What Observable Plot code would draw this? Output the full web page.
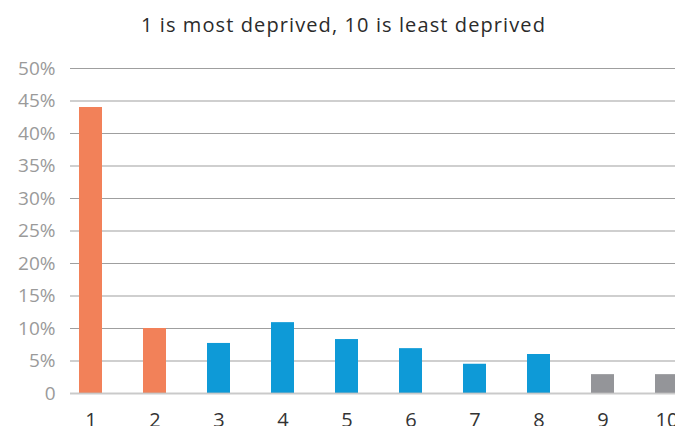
<!DOCTYPE html>
<html>
<head>
<meta charset="utf-8">
<script src="https://cdn.jsdelivr.net/npm/d3@7"></script>
<script src="https://cdn.jsdelivr.net/npm/@observablehq/plot@0.6"></script>
<style>
  html, body { margin: 0; padding: 0; background: #fff; overflow: hidden; }
  #title { height: 48px; line-height: 50px; text-align: center; font-family: "Open Sans", sans-serif; font-size: 20px; letter-spacing: 1.1px; color: #2b2b2b; padding-left: 12px; }
  #chart svg { display: block; }
</style>
</head>
<body>
<div id="title">1 is most deprived, 10 is least deprived</div>
<div id="chart"></div>
<script>
const deciles = ["1", "2", "3", "4", "5", "6", "7", "8", "9", "10"];
const shares = [44.0, 10.0, 7.7, 10.9, 8.3, 6.9, 4.5, 6.0, 2.9, 2.9];
const groups = ["most", "most", "mid", "mid", "mid", "mid", "mid", "mid", "least", "least"];
const groupNames = ["most", "mid", "least"];
const groupColors = ["#F28159", "#0E9AD7", "#949599"];
const yTicks = [0, 5, 10, 15, 20, 25, 30, 35, 40, 45, 50];

const data = deciles.map((d, i) => ({decile: d, share: shares[i], group: groups[i]}));

const chart = Plot.plot({
  width: 675,
  height: 378,
  marginLeft: 70,
  marginRight: 0,
  marginTop: 20,
  marginBottom: 33,
  style: {fontFamily: "Open Sans, sans-serif", background: "#fff", overflow: "visible"},
  x: {domain: deciles, range: [58.3, 698.3], paddingInner: 0.64, paddingOuter: 0.32, label: null},
  y: {domain: [0, 50], label: null},
  color: {domain: groupNames, range: groupColors},
  marks: [
    Plot.ruleY(yTicks.filter(t => t > 0), {stroke: "#9f9f9f", strokeWidth: 1}),
    Plot.barY(data, {x: "decile", y: "share", fill: "group"}),
    Plot.ruleY([0], {stroke: "#bdbdbd", strokeWidth: 2, strokeOpacity: 0.8}),
    Plot.axisY({ticks: yTicks, tickSize: 0, tickPadding: 15, tickFormat: d => d === 0 ? "0" : d + "%", fontSize: 19, fill: "#9a9a9a", label: null}),
    Plot.axisX({tickSize: 0, tickPadding: 19, fontSize: 20, fill: "#333", label: null})
  ]
});
document.getElementById("chart").appendChild(chart);
</script>
</body>
</html>
